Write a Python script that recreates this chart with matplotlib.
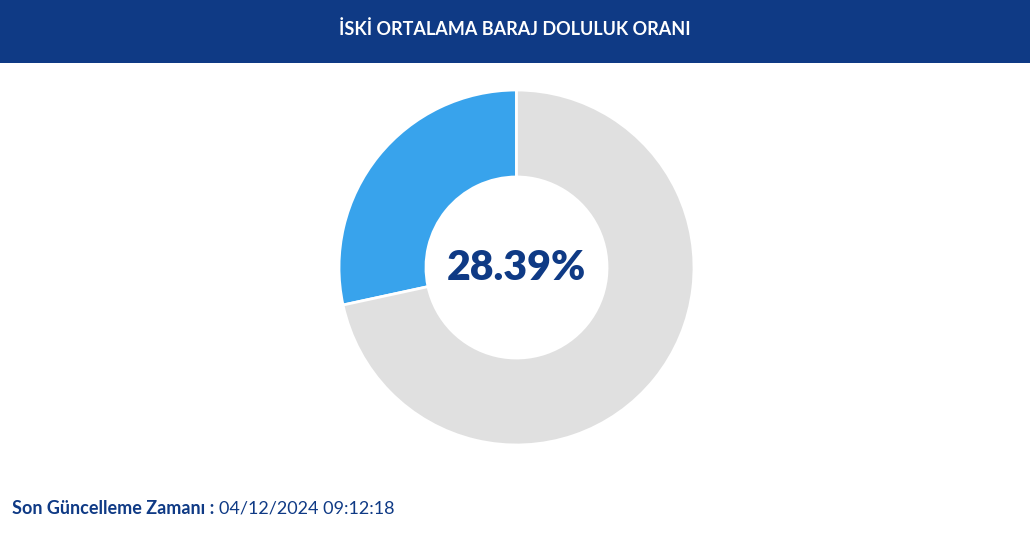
import matplotlib
matplotlib.use("Agg")
import matplotlib.pyplot as plt
from matplotlib.patches import Rectangle

# --- dados ---
baslik = "İSKİ ORTALAMA BARAJ DOLULUK ORANI"
dilimler = ["Dolu", "Boş"]
oranlar = [28.39, 71.61]
renkler = ["#38a3ec", "#e0e0e0"]
etiket_guncelleme = "Son Güncelleme Zamanı :"
guncelleme_zamani = "04/12/2024 09:12:18"

W, H = 1030, 535
lacivert = "#0f3a85"

fig = plt.figure(figsize=(W / 100, H / 100), dpi=100)
fig.patch.set_facecolor("white")
plt.rcParams["font.family"] = ["Lato", "DejaVu Sans"]

# Başlık bandı
fig.patches.append(Rectangle((0, 1 - 63 / H), 1, 63 / H, transform=fig.transFigure,
                             facecolor=lacivert, edgecolor="none", zorder=0))
fig.text(0.5, 1 - 29 / H, baslik, ha="center", va="center", color="white",
         fontsize=13, fontweight="bold")

# Halka grafik
cx, cy, r = 516.5, H - 267.5, 177.5
ax = fig.add_axes([(cx - r) / W, (cy - r) / H, 2 * r / W, 2 * r / H])
ax.pie(oranlar, colors=renkler, startangle=90, counterclock=True, radius=1,
       wedgeprops=dict(width=0.49, edgecolor="white", linewidth=2))
ax.set_xlim(-1, 1)
ax.set_ylim(-1, 1)
ax.set_aspect("equal")
ax.axis("off")
ax.text(0, 0, f"{oranlar[0]:.2f}%", ha="center", va="center", color=lacivert,
        fontsize=29.5, fontweight="heavy")

# Alt bilgi
t = fig.text(12 / W, 1 - 509 / H, etiket_guncelleme + " ", ha="left", va="center",
             color=lacivert, fontsize=13, fontweight="bold")
fig.canvas.draw()
bb = t.get_window_extent()
fig.text(bb.x1 / W, 1 - 509 / H, guncelleme_zamani, ha="left", va="center",
         color=lacivert, fontsize=13)

fig.savefig("out.png", dpi=100)
